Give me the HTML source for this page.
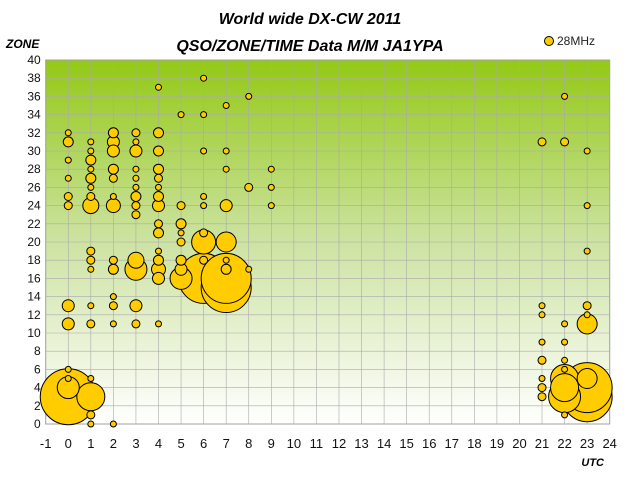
<!DOCTYPE html>
<html><head><meta charset="utf-8"><style>
body{margin:0;background:#fff;}
svg{display:block;font-family:"Liberation Sans",sans-serif;}
</style></head><body>
<svg id="chart" width="640" height="480" viewBox="0 0 640 480">
<defs><linearGradient id="bg" x1="0" y1="0" x2="0" y2="1">
<stop offset="0" stop-color="#93c915"/><stop offset="0.5" stop-color="#cde3a2"/><stop offset="1" stop-color="#ffffff"/></linearGradient></defs>
<text x="310" y="24" text-anchor="middle" font-size="16" font-weight="bold" font-style="italic">World wide DX-CW 2011</text>
<text x="310" y="51" text-anchor="middle" font-size="16" font-weight="bold" font-style="italic">QSO/ZONE/TIME Data M/M JA1YPA</text>
<text x="6" y="48" font-size="12" font-weight="bold" font-style="italic">ZONE</text>
<text x="604" y="466" text-anchor="end" font-size="11" font-weight="bold" font-style="italic">UTC</text>
<g>
<circle cx="549" cy="41" r="4.5" fill="#ffcc00" stroke="#000" stroke-width="1"/>
<text x="557" y="45" font-size="12" fill="#222">28MHz</text>
</g>
<rect x="45.7" y="60" width="564" height="364" fill="url(#bg)" stroke="#999"/>
<g id="grid"></g><g id="ticks"></g><g id="marks"></g>
</svg>
<script>
const hours=[0,0,0,0,0,0,0,0,0,0,0,0,
1,1,1,1,1,1,1,1,1,1,1,1,1,1,1,1,1,
2,2,2,2,2,2,2,2,2,2,2,2,2,
3,3,3,3,3,3,3,3,3,3,3,3,3,
4,4,4,4,4,4,4,4,4,4,4,4,4,4,4,
5,5,5,5,5,5,5,5,
6,6,6,6,6,6,6,6,6,
7,7,7,7,7,7,7,7,7,
8,8,8,9,9,9,
21,21,21,21,21,21,21,21,
22,22,22,22,22,22,22,22,22,22,
23,23,23,23,23,23,23,23,23];
const zones=[32,31,29,27,25,24,13,11,6,5,4,3,
31,30,29,28,27,26,25,24,19,18,17,13,11,5,3,1,0,
32,31,30,28,27,25,24,18,17,14,13,11,0,
32,31,30,28,27,26,25,24,23,18,17,13,11,
37,32,30,28,27,26,25,24,22,21,19,18,17,16,11,
34,24,22,21,20,18,17,16,
38,34,30,25,24,21,20,18,16,
35,30,28,24,20,18,17,15,16,
36,26,17,28,26,24,
31,13,12,9,7,5,4,3,
36,31,11,9,7,6,5,3,4,1,
30,24,19,13,12,11,3,4,5];
const sizes=[3,5,3,3,4,4,6,6,3,3,11,28,
3,3,5,3,5,3,4,8,4,4,3,3,4,3,14,4,3,
5,6,6,5,4,3,7,4,5,3,4,3,3,
4,3,6,3,3,3,5,4,4,8,11,6,4,
3,5,5,5,4,3,5,6,4,5,3,5,7,6,3,
3,4,5,3,4,5,6,11,
3,3,3,3,3,4,12,4,25,
3,3,3,6,10,3,5,25,25,
3,4,3,3,3,3,
4,3,3,3,4,3,4,4,
3,4,3,3,3,3,14,16,14,3,
3,3,3,4,3,10,25,25,10];
const xTicks=[-1,0,1,2,3,4,5,6,7,8,9,10,11,12,13,14,15,16,17,18,19,20,21,22,23,24];
const yTicks=[0,2,4,6,8,10,12,14,16,18,20,22,24,26,28,30,32,34,36,38,40];
const X0=45.7,X1=609.7,Y0=424,Y1=60;
const xs=v=>X0+(v+1)/25*(X1-X0);
const ys=v=>Y0-v/40*(Y0-Y1);
const NS="http://www.w3.org/2000/svg";
const grid=document.getElementById('grid'),ticks=document.getElementById('ticks'),marks=document.getElementById('marks');
function mk(tag,at,parent){const e=document.createElementNS(NS,tag);for(const k in at)e.setAttribute(k,at[k]);parent.appendChild(e);return e;}
xTicks.forEach(t=>{
 const l=mk('line',{x1:xs(t),x2:xs(t),y1:Y1,y2:Y0,stroke:'#aaa','stroke-width':0.6},grid);
 
 
 const tx=mk('text',{x:xs(t),y:Y0+24,'text-anchor':'middle','font-size':13,fill:'#111'},ticks);
 tx.textContent=t;
 
 
});
yTicks.forEach(t=>{
 const l=mk('line',{x1:X0,x2:X1,y1:ys(t),y2:ys(t),stroke:'#aaa','stroke-width':0.6},grid);
 
 
 const tx=mk('text',{x:X0-5,y:ys(t)+4,'text-anchor':'end','font-size':12,fill:'#111'},ticks);
 tx.textContent=t;
 
 
});
const order=sizes.map((s,i)=>i).sort((a,b)=>sizes[b]-sizes[a]);
order.forEach(i=>{
 const c=mk('circle',{cx:xs(hours[i]),cy:ys(zones[i]),r:sizes[i],fill:'#ffcc00',stroke:'#000','stroke-width':1},marks);
 
 
});
</script>
</body></html>
